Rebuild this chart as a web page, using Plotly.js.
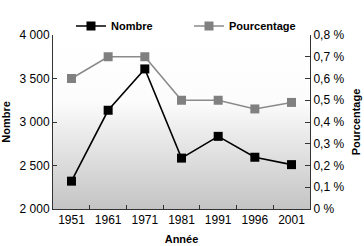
<!DOCTYPE html>
<html>
<head>
<meta charset="utf-8">
<script src="https://cdn.plot.ly/plotly-3.0.1.min.js"></script>
<style>
html,body{margin:0;padding:0;background:#fff;}
#chart{width:364px;height:246px;}
</style>
</head>
<body>
<div id="chart"></div>
<script>
var annees = ['1951', '1961', '1971', '1981', '1991', '1996', '2001'];
var nombre = [2320, 3135, 3610, 2585, 2835, 2595, 2510];
var pourcentage = [0.60, 0.70, 0.70, 0.50, 0.50, 0.46, 0.49];
var nomSerie1 = 'Nombre';
var nomSerie2 = 'Pourcentage';

var FONT = 'Liberation Sans, Arial, sans-serif';

var gradSvg = '<svg xmlns="http://www.w3.org/2000/svg" width="100" height="100" preserveAspectRatio="none">' +
  '<defs><linearGradient id="g" x1="0" y1="0" x2="0" y2="1">' +
  '<stop offset="0" stop-color="#ffffff"/><stop offset="0.38" stop-color="#fcfcfc"/>' +
  '<stop offset="1" stop-color="#c4c4c4"/></linearGradient></defs>' +
  '<rect width="100" height="100" fill="url(#g)"/></svg>';
var gradUri = 'data:image/svg+xml;base64,' + btoa(gradSvg);

var traces = [
  {
    x: annees, y: nombre, name: nomSerie1, type: 'scatter', mode: 'lines+markers',
    line: {color: '#000000', width: 1.6},
    marker: {symbol: 'square', size: 9, color: '#000000'},
    yaxis: 'y'
  },
  {
    x: annees, y: pourcentage, name: nomSerie2, type: 'scatter', mode: 'lines+markers',
    line: {color: '#8a8a8a', width: 1.6},
    marker: {symbol: 'square', size: 9, color: '#808080'},
    yaxis: 'y2'
  }
];

var layout = {
  width: 364, height: 246,
  margin: {l: 53, r: 54, t: 23, b: 37, pad: 0},
  paper_bgcolor: '#ffffff',
  plot_bgcolor: 'rgba(0,0,0,0)',
  separators: ', ',
  font: {family: FONT, size: 11, color: '#000000'},
  showlegend: true,
  legend: {
    orientation: 'h', x: 0.07, xanchor: 'left', y: 1.135, yanchor: 'top',
    font: {family: FONT, size: 11, weight: 'bold', color: '#000'},
    bgcolor: 'rgba(0,0,0,0)', itemwidth: 30,
    entrywidth: 73, entrywidthmode: 'pixels'
  },
  images: [{
    source: gradUri, xref: 'paper', yref: 'paper', x: 0, y: 1, sizex: 1, sizey: 1,
    xanchor: 'left', yanchor: 'top', sizing: 'stretch', layer: 'below'
  }],
  xaxis: {
    type: 'category', tickson: 'boundaries', ticks: 'inside', ticklen: 4,
    tickcolor: '#333', showline: true, linecolor: '#333', linewidth: 1,
    showgrid: false, zeroline: false, fixedrange: true,
    tickfont: {family: FONT, size: 12},
    title: {text: 'Année', font: {family: FONT, size: 11, weight: 'bold'}, standoff: 8}
  },
  yaxis: {
    range: [2000, 4000], dtick: 500, tickformat: ',d',
    ticks: 'inside', ticklen: 4, tickcolor: '#333',
    showline: true, linecolor: '#333', linewidth: 1,
    showgrid: false, zeroline: false, fixedrange: true,
    tickfont: {family: FONT, size: 12},
    title: {text: 'Nombre', font: {family: FONT, size: 11, weight: 'bold'}, standoff: 6}
  },
  yaxis2: {
    overlaying: 'y', side: 'right',
    range: [0, 0.8], dtick: 0.1, tickformat: '.1~f', ticksuffix: ' %',
    ticks: 'inside', ticklen: 5, tickcolor: '#333',
    showline: true, linecolor: '#333', linewidth: 1,
    showgrid: false, zeroline: false, fixedrange: true,
    tickfont: {family: FONT, size: 12},
    title: {text: 'Pourcentage', font: {family: FONT, size: 11, weight: 'bold'}, standoff: 8}
  }
};

Plotly.newPlot('chart', traces, layout, {displayModeBar: false, staticPlot: true});
</script>
</body>
</html>
